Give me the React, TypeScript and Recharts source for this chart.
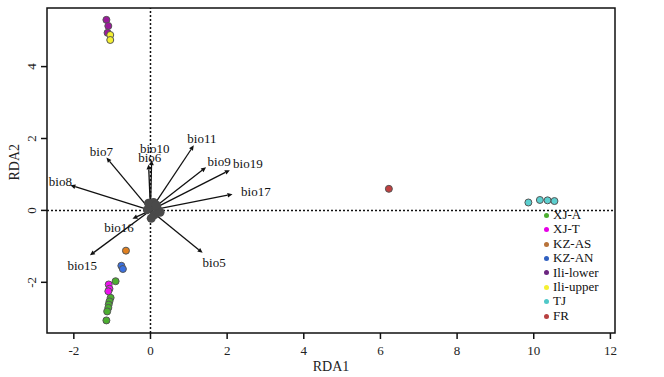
import {
  ScatterChart,
  Scatter,
  XAxis,
  YAxis,
  ReferenceLine,
  ReferenceArea,
} from 'recharts';

// site scores per population (RDA1, RDA2)
const xjA = [
  { x: -0.91, y: -1.97 },
  { x: -1.04, y: -2.43 },
  { x: -1.07, y: -2.53 },
  { x: -1.09, y: -2.62 },
  { x: -1.1, y: -2.71 },
  { x: -1.13, y: -2.81 },
  { x: -1.15, y: -3.06 },
];
const xjT = [
  { x: -1.09, y: -2.06 },
  { x: -1.07, y: -2.18 },
  { x: -1.1, y: -2.25 },
];
const kzAS = [{ x: -0.64, y: -1.12 }];
const kzAN = [
  { x: -0.76, y: -1.54 },
  { x: -0.72, y: -1.63 },
];
const iliLower = [
  { x: -1.15, y: 5.3 },
  { x: -1.1, y: 5.13 },
  { x: -1.12, y: 4.94 },
];
const iliUpper = [
  { x: -1.05, y: 4.88 },
  { x: -1.05, y: 4.74 },
];
const tj = [
  { x: 9.86, y: 0.22 },
  { x: 10.16, y: 0.29 },
  { x: 10.36, y: 0.28 },
  { x: 10.54, y: 0.26 },
];
const fr = [{ x: 6.22, y: 0.6 }];

// SNP loadings clustered at the origin
const loadings = [
  { x: 0, y: 0.1 },
  { x: 0.08, y: 0.22 },
  { x: 0.18, y: 0.05 },
  { x: -0.08, y: 0.02 },
  { x: 0.1, y: -0.12 },
  { x: 0.25, y: -0.05 },
  { x: 0.02, y: -0.22 },
  { x: -0.05, y: 0.2 },
  { x: 0.15, y: 0.15 },
];

// environmental biplot arrows
const bioNames = ['bio11', 'bio7', 'bio8', 'bio10', 'bio6', 'bio9', 'bio19', 'bio17', 'bio16', 'bio15', 'bio5'];
const bioX = [1.13, -1.15, -2.09, 0.03, -0.05, 1.45, 2.07, 2.14, -0.47, -1.58, 1.36];
const bioY = [1.81, 1.47, 0.7, 1.4, 1.28, 1.2, 1.12, 0.45, -0.23, -1.25, -1.18];
const bioLabelX = [1.34, -1.28, -2.35, 0.11, -0.02, 1.79, 2.54, 2.75, -0.82, -1.78, 1.66];
const bioLabelY = [2.0, 1.65, 0.8, 1.72, 1.47, 1.37, 1.31, 0.53, -0.48, -1.53, -1.44];

const xTicks = [-2, 0, 2, 4, 6, 8, 10, 12];
const yTicks = [-2, 0, 2, 4];

const groups = [
  { name: 'XJ-A', data: xjA, fill: '#4caf30', key: '#4caf30' },
  { name: 'XJ-T', data: xjT, fill: '#ee10ee', key: '#e600e6' },
  { name: 'KZ-AS', data: kzAS, fill: '#e08020', key: '#b8733a' },
  { name: 'KZ-AN', data: kzAN, fill: '#3a70e0', key: '#3060c0' },
  { name: 'Ili-lower', data: iliLower, fill: '#9a1a9a', key: '#6b2580' },
  { name: 'Ili-upper', data: iliUpper, fill: '#f5f032', key: '#f5f032' },
  { name: 'TJ', data: tj, fill: '#5ccfcf', key: '#50c8c8' },
  { name: 'FR', data: fr, fill: '#c04040', key: '#b84040' },
];

const labels = bioNames.map((name, i) => ({ x: bioLabelX[i], y: bioLabelY[i], name }));

const FONT = 'Liberation Serif, serif';

const Arrow = (props: any) => {
  const { x1, y1, x2, y2 } = props;
  const a = Math.atan2(y2 - y1, x2 - x1);
  const len = 5;
  const w = 2.3;
  const bx = x2 - len * Math.cos(a);
  const by = y2 - len * Math.sin(a);
  const p1 = `${bx - w * Math.sin(a)},${by + w * Math.cos(a)}`;
  const p2 = `${bx + w * Math.sin(a)},${by - w * Math.cos(a)}`;
  return (
    <g>
      <line x1={x1} y1={y1} x2={bx} y2={by} stroke="#111" strokeWidth={1.3} />
      <polygon points={`${x2},${y2} ${p1} ${p2}`} fill="#111" />
    </g>
  );
};

const YTick = (props: any) => {
  const { x, y, payload } = props;
  return (
    <text
      x={x - 3}
      y={y}
      transform={`rotate(-90 ${x - 3} ${y})`}
      textAnchor="middle"
      fontFamily={FONT}
      fontSize={13}
      fill="#222"
    >
      {payload.value}
    </text>
  );
};

const XTick = (props: any) => {
  const { x, y, payload } = props;
  return (
    <text x={x} y={y + 14} textAnchor="middle" fontFamily={FONT} fontSize={13} fill="#222">
      {payload.value}
    </text>
  );
};

const LegendBox = () => (
  <div
    style={{
      position: 'absolute',
      left: 544,
      top: 208,
      fontFamily: FONT,
      fontSize: 13,
      color: '#111',
      lineHeight: '14.4px',
    }}
  >
    {groups.map((g) => (
      <div key={g.name} style={{ display: 'flex', alignItems: 'center', whiteSpace: 'nowrap' }}>
        <span
          style={{
            display: 'inline-block',
            width: 5,
            height: 5,
            borderRadius: '50%',
            background: g.key,
            marginRight: 4,
          }}
        />
        {g.name}
      </div>
    ))}
  </div>
);

export default function App() {
  return (
    <div style={{ position: 'absolute', left: 0, top: 0, width: 664, height: 377, background: '#fff' }}>
      <ScatterChart width={664} height={377} margin={{ top: 8, right: 49, bottom: 0, left: 0 }}>
        <XAxis
          type="number"
          dataKey="x"
          domain={[-2.7, 12.12]}
          ticks={xTicks}
          allowDataOverflow
          height={44}
          stroke="#111"
          axisLine={false}
          tickLine={{ stroke: '#111', strokeWidth: 1.5 }}
          tickSize={6}
          tick={<XTick />}
          label={{ value: 'RDA1', position: 'insideBottom', offset: 6, fontFamily: FONT, fontSize: 14, fill: '#222' }}
        />
        <YAxis
          type="number"
          dataKey="y"
          domain={[-3.41, 5.63]}
          ticks={yTicks}
          allowDataOverflow
          width={47}
          axisLine={false}
          tickLine={{ stroke: '#111', strokeWidth: 1.5 }}
          tickSize={6}
          tick={<YTick />}
          label={{
            value: 'RDA2',
            angle: -90,
            position: 'insideLeft',
            offset: 14,
            dy: 10,
            fontFamily: FONT,
            fontSize: 14,
            fill: '#222',
          }}
        />
        <ReferenceArea
          x1={-2.7}
          x2={12.12}
          y1={-3.41}
          y2={5.63}
          fill="none"
          stroke="#111"
          strokeWidth={1.5}
          ifOverflow="visible"
        />
        <ReferenceLine x={0} stroke="#111" strokeWidth={1.5} strokeDasharray="2 2" />
        <ReferenceLine y={0} stroke="#111" strokeWidth={1.5} strokeDasharray="2 2" />
        <Scatter
          data={loadings}
          isAnimationActive={false}
          shape={(p: any) => <circle cx={p.cx} cy={p.cy} r={4.5} fill="#4a4a4a" />}
        />
        {bioNames.map((name, i) => (
          <ReferenceLine
            key={name}
            segment={[
              { x: 0, y: 0 },
              { x: bioX[i], y: bioY[i] },
            ]}
            shape={Arrow}
          />
        ))}
        <Scatter
          data={labels}
          isAnimationActive={false}
          shape={(p: any) => (
            <text
              x={p.cx}
              y={p.cy}
              textAnchor="middle"
              dominantBaseline="central"
              fontFamily={FONT}
              fontSize={13}
              fill="#111"
            >
              {p.payload.name}
            </text>
          )}
        />
        {groups.map((g) => (
          <Scatter
            key={g.name}
            name={g.name}
            data={g.data}
            isAnimationActive={false}
            shape={(p: any) => (
              <circle cx={p.cx} cy={p.cy} r={3.5} fill={g.fill} stroke="#555" strokeWidth={1} />
            )}
          />
        ))}
      </ScatterChart>
      <LegendBox />
    </div>
  );
}
